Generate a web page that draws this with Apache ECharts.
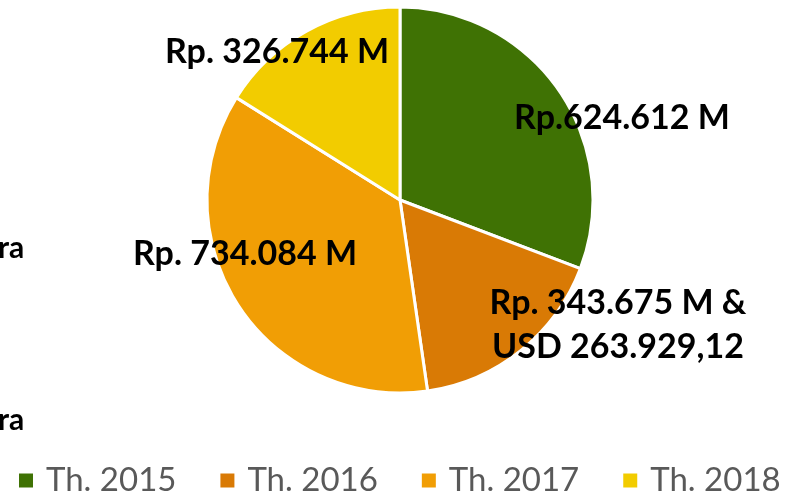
<!DOCTYPE html>
<html><head><meta charset="utf-8">
<script src="https://cdn.jsdelivr.net/npm/echarts@6/dist/echarts.min.js"></script>
<style>html,body{margin:0;padding:0;background:#fff}#c{width:799px;height:502px}</style>
</head><body><div id="c"></div>
<script>
const categories = ['Th. 2015','Th. 2016','Th. 2017','Th. 2018'];
const values = [624.612, 343.675, 734.084, 326.744];
const labelTexts = ['Rp.624.612 M','Rp. 343.675 M &\nUSD 263.929,12','Rp. 734.084 M','Rp. 326.744 M'];
const colors = ['#3f7204','#d97a05','#f19e05','#f2cc00'];
const labelPos = [[622,118],[618,325],[245,254],[277,52]];

const chart = echarts.init(document.getElementById('c'));
chart.setOption({
  animation:false,
  color: colors,
  legend:{
    bottom: 0, left: 12, width: 790,
    itemWidth:16, itemHeight:16, itemGap:42,
    icon:'rect',
    textStyle:{fontFamily:'Lato', fontSize:33, color:'#595959', padding:[0,0,0,7]},
    data: categories
  },
  graphic:[
    {type:'text', left:-2, top:233, style:{text:'ra', font:'bold 30px Lato', fill:'#000'}},
    {type:'text', left:-2, top:405, style:{text:'ra', font:'bold 30px Lato', fill:'#000'}}
  ],
  series:[{
    type:'pie',
    center:[400,200],
    radius:[0,193],
    startAngle:90,
    clockwise:true,
    itemStyle:{borderColor:'#fff', borderWidth:3},
    label:{show:true, position:'inside', fontFamily:'Lato', fontWeight:'bold', fontSize:34, color:'#000', lineHeight:44,
      formatter: p => labelTexts[p.dataIndex]},
    labelLine:{show:false},
    labelLayout: p => ({x: labelPos[p.dataIndex][0], y: labelPos[p.dataIndex][1], align:'center', verticalAlign:'middle'}),
    emphasis:{disabled:true},
    data: categories.map((c,i)=>({name:c, value:values[i]}))
  }]
});
</script></body></html>
